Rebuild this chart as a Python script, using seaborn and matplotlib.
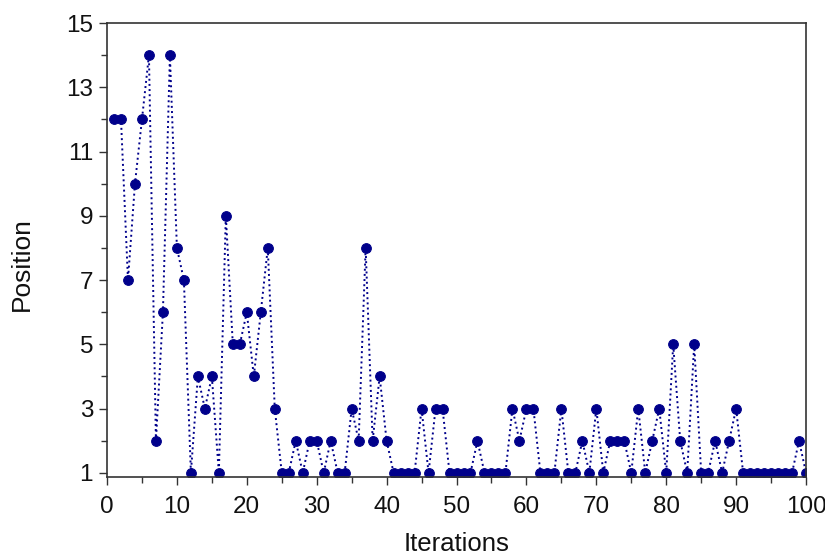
import matplotlib
matplotlib.use("Agg")
import matplotlib.pyplot as plt
from matplotlib.ticker import MultipleLocator
import seaborn as sns
import pandas as pd

iterations = list(range(1, 101))
position = [12, 12, 7, 10, 12, 14, 2, 6, 14, 8,
            7, 1, 4, 3, 4, 1, 9, 5, 5, 6,
            4, 6, 8, 3, 1, 1, 2, 1, 2, 2,
            1, 2, 1, 1, 3, 2, 8, 2, 4, 2,
            1, 1, 1, 1, 3, 1, 3, 3, 1, 1,
            1, 1, 2, 1, 1, 1, 1, 3, 2, 3,
            3, 1, 1, 1, 3, 1, 1, 2, 1, 3,
            1, 2, 2, 2, 1, 3, 1, 2, 3, 1,
            5, 2, 1, 5, 1, 1, 2, 1, 2, 3,
            1, 1, 1, 1, 1, 1, 1, 1, 2, 1]
y_ticks = [1, 3, 5, 7, 9, 11, 13, 15]
x_ticks = [0, 10, 20, 30, 40, 50, 60, 70, 80, 90, 100]

df = pd.DataFrame({"Iterations": iterations, "Position": position})

sns.set_style("ticks")
plt.rcParams["font.family"] = ["Liberation Sans", "DejaVu Sans"]

fig = plt.figure(figsize=(8.25, 5.56), dpi=100)
ax = fig.add_axes([0.1297, 0.142, 0.8473, 0.8166])

sns.lineplot(data=df, x="Iterations", y="Position", color="#00008B",
             linestyle=":", linewidth=1.4, marker="o", markersize=7,
             markeredgecolor="#00008B", ax=ax)

ax.set_xlim(0, 100)
ax.set_ylim(0.87, 15)
ax.set_xticks(x_ticks)
ax.set_yticks(y_ticks)
ax.xaxis.set_minor_locator(MultipleLocator(5))
ax.yaxis.set_minor_locator(MultipleLocator(1))
ax.tick_params(axis="both", which="major", direction="out", length=6,
               width=1, labelsize=17.5, color="#333333", labelcolor="#111111")
ax.tick_params(axis="x", which="major", pad=8)
ax.tick_params(axis="y", which="major", pad=4)
ax.tick_params(axis="both", which="minor", direction="out", length=4,
               width=1, color="#333333")
for s in ax.spines.values():
    s.set_visible(True)
    s.set_linewidth(1.2)
    s.set_color("#333333")

ax.set_xlabel("Iterations", fontsize=18.5, color="#111111")
ax.set_ylabel("Position", fontsize=19, color="#111111")
ax.xaxis.set_label_coords(0.5, -0.122)
ax.yaxis.set_label_coords(-0.104, 0.47)

fig.savefig("out.png", dpi=100)
plt.close(fig)
